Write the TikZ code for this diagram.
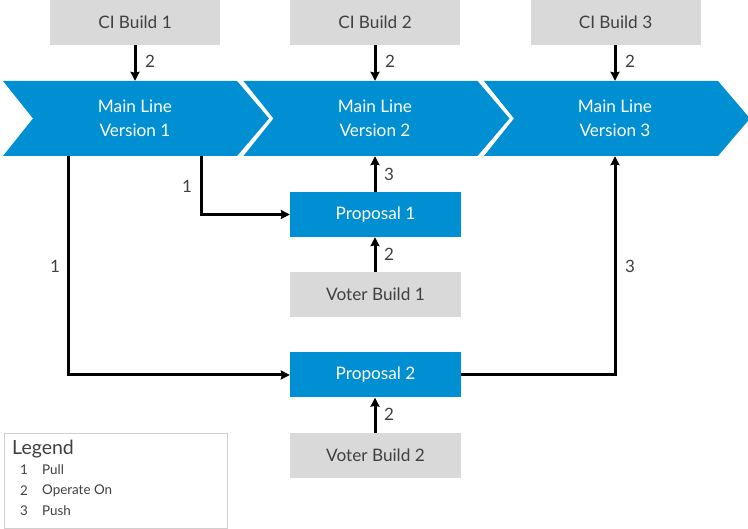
\documentclass[tikz,border=0pt]{standalone}
\usepackage{fontspec}
\setmainfont{Lato}
\usetikzlibrary{arrows.meta}
\definecolor{sapblue}{HTML}{008FD3}
\definecolor{boxgray}{HTML}{D9D9D9}
\definecolor{txtgray}{HTML}{404040}
\definecolor{leggray}{HTML}{D0D0D0}
\tikzset{
  graybox/.style={fill=boxgray, draw=none, minimum width=170pt, minimum height=45pt, inner sep=0pt, text=txtgray, font=\fontsize{17.2}{20}\selectfont},
  bluebox/.style={fill=sapblue, draw=none, minimum width=171pt, minimum height=45pt, inner sep=0pt, text=white, font=\fontsize{17.2}{20}\selectfont},
  mainlbl/.style={draw=none, minimum width=200pt, minimum height=75pt, inner sep=0pt, text=white, align=center, font=\fontsize{17.2}{24}\selectfont},
  arr/.style={line width=3pt, -{Stealth[length=9pt,width=9pt,inset=1pt]}, black},
  num/.style={text=txtgray, font=\fontsize{17}{20}\selectfont, inner sep=0pt},
  legtxt/.style={text=txtgray, font=\fontsize{13.4}{16}\selectfont, inner sep=0pt, anchor=west}
}
\begin{document}
\begin{tikzpicture}[x=1pt,y=-1pt]
\useasboundingbox (0,0) rectangle (748,529);
% chevrons
\foreach \x in {3,243.5,484}{
  \fill[sapblue] (\x,81) -- (\x+234,81) -- (\x+266,118.5) -- (\x+234,156) -- (\x,156) -- (\x+30,118.5) -- cycle;
}
\node[mainlbl] (m1) at (135,118.5) {Main Line\\Version 1};
\node[mainlbl] (m2) at (375,118.5) {Main Line\\Version 2};
\node[mainlbl] (m3) at (615,118.5) {Main Line\\Version 3};
% CI builds
\node[graybox] (ci1) at (135,22.5) {CI Build 1};
\node[graybox] (ci2) at (375,22.5) {CI Build 2};
\node[graybox] (ci3) at (615.5,22.5) {CI Build 3};
% proposals and voters
\node[bluebox] (p1) at (375.5,214.5) {Proposal 1};
\node[graybox, minimum width=171pt] (v1) at (375.5,294.5) {Voter Build 1};
\node[bluebox] (p2) at (375.5,375) {Proposal 2};
\node[graybox, minimum width=171pt] (v2) at (375.5,455.5) {Voter Build 2};
% arrows
\draw[arr] (ci1.south) -- (m1.north);
\draw[arr] (ci2.south) -- (m2.north);
\draw[arr] (ci3.south -| m3.north) -- (m3.north);
\draw[arr] (v1.north -| m2.south) -- (p1.south -| m2.south);
\draw[arr] (p1.north -| m2.south) -- (m2.south);
\draw[arr] (v2.north -| m2.south) -- (p2.south -| m2.south);
\draw[arr] ([xshift=66pt]m1.south) |- (p1.west);
\draw[arr] ([xshift=-67pt]m1.south) |- (p2.west);
\draw[arr] (p2.east) -| (m3.south);
% number labels
\node[num] (n1) at (150,61) {2};
\node[num] (n2) at (390,61) {2};
\node[num] (n3) at (630,61) {2};
\node[num] (n4) at (389,174) {3};
\node[num] (n5) at (389,254) {2};
\node[num] (n6) at (389,414) {2};
\node[num] (n7) at (187,186) {1};
\node[num] (n8) at (55,266) {1};
\node[num] (n9) at (630,266) {3};
% legend
\node[draw=leggray, line width=0.8pt, minimum width=223pt, minimum height=95pt, anchor=north west, inner sep=0pt] (leg) at (3.5,433.5) {};
\node[text=txtgray, font=\fontsize{19.5}{22}\selectfont, inner sep=0pt, anchor=west] (lt) at (12,449) {Legend};
\node[legtxt] (l1n) at (20,469.5) {1};
\node[legtxt] (l1) at (42,469.5) {Pull};
\node[legtxt] (l2n) at (20,490.5) {2};
\node[legtxt] (l2) at (42,490.5) {Operate On};
\node[legtxt] (l3n) at (20,511) {3};
\node[legtxt] (l3) at (42,511) {Push};
\end{tikzpicture}
\end{document}
